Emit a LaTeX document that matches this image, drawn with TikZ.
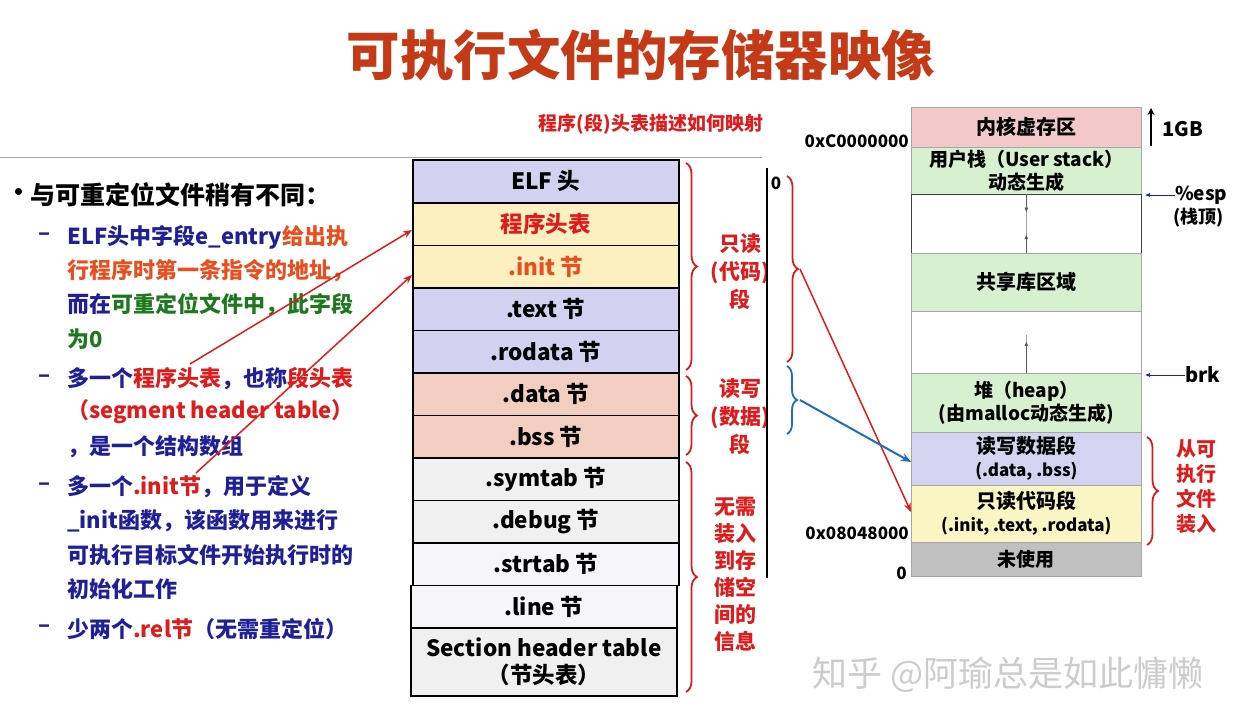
\documentclass[tikz,border=0pt]{standalone}
\usepackage{fontspec}
\setmainfont{Noto Sans CJK SC}
\usetikzlibrary{decorations.pathreplacing,arrows.meta}
\definecolor{titlec}{RGB}{196,58,22}
\definecolor{navyc}{RGB}{32,32,150}
\definecolor{oredc}{RGB}{232,78,30}
\definecolor{redc}{RGB}{222,28,28}
\definecolor{greenc}{RGB}{30,120,30}
\definecolor{lavc}{RGB}{210,210,240}
\definecolor{yelc}{RGB}{253,240,192}
\definecolor{pinkc}{RGB}{242,206,192}
\definecolor{grayc}{RGB}{240,240,240}
\definecolor{grayd}{RGB}{246,246,250}
\definecolor{kerc}{RGB}{242,200,200}
\definecolor{grnc}{RGB}{214,240,208}
\definecolor{memlav}{RGB}{212,212,240}
\definecolor{memyel}{RGB}{250,246,196}
\definecolor{unusc}{RGB}{192,192,192}
\definecolor{bluec}{RGB}{30,110,190}
\definecolor{bracer}{RGB}{210,30,30}
\begin{document}
\begin{tikzpicture}[x=1pt,y=-1pt,
  every node/.style={inner sep=0pt},
  lt/.style={anchor=west, font=\fontsize{22}{26}\selectfont\bfseries, text=navyc},
  sect/.style={draw=black, line width=1.6pt, minimum width=266pt, anchor=north west, font=\fontsize{22.5}{27}\selectfont\bfseries, align=center},
  mem/.style={draw=gray!70, line width=0.7pt, minimum width=230pt, anchor=north west, font=\fontsize{19}{22}\selectfont\bfseries, align=center},
  lab/.style={font=\fontsize{17}{20}\selectfont\bfseries},
  blab/.style={font=\fontsize{21}{28}\selectfont\bfseries, text=redc, align=center},
  rbrace/.style={decorate, decoration={brace, amplitude=11pt}, draw=bracer, line width=1.8pt},
  bbrace/.style={decorate, decoration={brace, amplitude=10pt}, draw=bluec, line width=1.8pt},
  rarrow/.style={draw=redc, line width=1.5pt, -{Stealth[length=9pt,width=7pt]}},
  barrow/.style={draw=bluec, line width=2pt, -{Stealth[length=10pt,width=8pt]}},
  smarrow/.style={draw=gray!70!black, line width=0.6pt, -{Latex[length=5pt,width=4pt]}}
]
\useasboundingbox (0,0) rectangle (1245,721);
\fill[white] (0,0) rectangle (1245,721);

% title
\node[font=\fontsize{53.5}{58}\selectfont\bfseries, text=titlec] (title) at (641,55) {可执行文件的存储器映像};
\node[font=\fontsize{19}{21}\selectfont\bfseries, text=redc] (maphint) at (651,124) {程序(段)头表描述如何映射};
\draw[gray!70, line width=1pt] (0,157) coordinate (hl1) -- (762,157) coordinate (hl2);

% left text
\node[anchor=west, font=\fontsize{25}{28}\selectfont\bfseries] (bul) at (6,195) {•};
\node[anchor=west, font=\fontsize{25}{28}\selectfont\bfseries] (head) at (30,195) {与可重定位文件稍有不同：};
\node[lt] (d1) at (38,237) {–};
\node[lt] (l1) at (67,237) {ELF头中字段e\_entry\textcolor{oredc}{给出执}};
\node[lt, text=oredc] (l2) at (67,271) {行程序时第一条指令的地址，};
\node[lt] (l3) at (67,305) {而在\textcolor{greenc}{可重定位文件中，此字段}};
\node[lt, text=greenc] (l4) at (67,339) {为0};
\node[lt] (d2) at (38,379) {–};
\node[lt] (l5) at (67,379) {多一个\textcolor{redc}{程序头表}，也称\textcolor{redc}{段头表}};
\node[lt, text=redc] (l6) at (67,412) {（segment header table）};
\node[lt] (l7) at (67,447) {，是一个结构数组};
\node[lt] (d3) at (38,487) {–};
\node[lt] (l8) at (67,487) {多一个\textcolor{redc}{.init节}，用于定义};
\node[lt] (l9) at (67,521) {\_init函数，该函数用来进行};
\node[lt] (l10) at (67,555) {可执行目标文件开始执行时的};
\node[lt] (l11) at (67,589) {初始化工作};
\node[lt] (d4) at (38,629) {–};
\node[lt] (l12) at (67,629) {少两个\textcolor{redc}{.rel节}（无需重定位）};

% ELF table
\node[sect, fill=lavc, minimum height=43pt] (elf) at (412,159) {ELF 头};
\node[sect, fill=yelc, minimum height=42.5pt, text=redc] (pht) at (412,202) {程序头表};
\node[sect, fill=yelc, minimum height=42.5pt, text=oredc] (init) at (412,244.5) {.init 节};
\node[sect, fill=lavc, minimum height=42.5pt] (text) at (412,287) {.text 节};
\node[sect, fill=lavc, minimum height=42.5pt] (rodata) at (412,329.5) {.rodata 节};
\node[sect, fill=pinkc, minimum height=42.5pt] (data) at (412,372) {.data 节};
\node[sect, fill=pinkc, minimum height=42.5pt] (bss) at (412,414.5) {.bss 节};
\node[sect, fill=grayc, minimum height=42.5pt] (symtab) at (412,457) {.symtab 节};
\node[sect, fill=grayc, minimum height=42.5pt] (debug) at (412,499.5) {.debug 节};
\node[sect, fill=grayd, minimum height=42.5pt] (strtab) at (412,542) {.strtab 节};
\node[sect, fill=grayd, minimum height=42.5pt] (line) at (410,584.5) {.line 节};
\node[sect, fill=grayc, minimum height=68pt, font=\fontsize{22.5}{27}\selectfont\bfseries] (sht) at (410,627) {Section header table\\（节头表）};

% braces beside table
\draw[rbrace] (686,163) -- (686,370);
\draw[rbrace] (686,376) -- (686,455);
\draw[rbrace] (686,462) -- (686,692);
\node[blab] (ro) at (740,272) {只读\\(代码)\\段};
\node[blab] (rw) at (740,417) {读写\\(数据)\\段};
\node[blab, font=\fontsize{21}{27}\selectfont\bfseries] (noload) at (735,574) {无需\\装入\\到存\\储空\\间的\\信息};
\draw[black, line width=1.2pt] (767,168) coordinate (vl1) -- (767,578) coordinate (vl2);
\node[lab] (z1) at (776,183) {0};
\draw[rbrace] (787,176) -- (787,362);
\coordinate (b4tip) at (800,269);
\draw[bbrace] (787,366) -- (787,434);
\coordinate (b5tip) at (800,400);

% memory map
\node[mem, fill=kerc, minimum height=39.5pt, font=\fontsize{20}{22}\selectfont\bfseries] (kern) at (911,107) {内核虚存区};
\node[mem, fill=grnc, minimum height=47pt, font=\fontsize{19}{23}\selectfont\bfseries] (ustack) at (911,146.5) {用户栈（User stack）\\动态生成};
\node[mem, draw=gray!50!black, fill=white, minimum height=59pt] (gap1) at (911,193.5) {};
\node[mem, fill=grnc, minimum height=58pt, font=\fontsize{20}{22}\selectfont\bfseries] (shlib) at (911,252.5) {共享库区域};
\node[mem, fill=white, minimum height=62pt] (gap2) at (911,310.5) {};
\node[mem, fill=grnc, minimum height=59pt, font=\fontsize{19}{23}\selectfont\bfseries] (heap) at (911,372.5) {堆（heap）\\(由malloc动态生成)};
\node[mem, fill=memlav, minimum height=53pt] (rwseg) at (911,431.5) {\fontsize{20}{22}\selectfont 读写数据段\\[1pt]\fontsize{17}{19}\selectfont (.data, .bss)};
\node[mem, fill=memyel, minimum height=57pt] (roseg) at (911,484.5) {\fontsize{20}{22}\selectfont 只读代码段\\[1pt]\fontsize{17}{19}\selectfont (.init, .text, .rodata)};
\node[mem, fill=unusc, minimum height=34pt] (unused) at (911,541.5) {未使用};

% inner arrows
\draw[gray!70, line width=0.5pt] (gap1.north) -- (gap1.south);
\draw[smarrow] (gap1.north) -- ++(0,19) coordinate (ga);
\draw[smarrow] (gap1.south) -- ++(0,-19) coordinate (gb);
\draw[gray!70, line width=0.5pt] (gap2.south) -- ++(0,-38) coordinate (gc);
\draw[smarrow] (gap2.south) -- ++(0,-32) coordinate (gd);

% memory labels
\node[lab, anchor=east] (addrk) at (909,141) {0xC0000000};
\node[lab, anchor=east] (addrc) at (909,533) {0x08048000};
\node[lab, anchor=east] (addr0) at (907,573) {0};
\coordinate (gbB) at (1151,146);
\coordinate (gbT) at (1151,108);
\draw[black, line width=2pt, -{Stealth[length=7pt,width=7pt]}] (gbB) -- (gbT);
\node[font=\fontsize{20}{22}\selectfont\bfseries, anchor=west] (gb1) at (1162,129) {1GB};
\node[font=\fontsize{19}{22}\selectfont\bfseries, anchor=west] (esp) at (1175,195) {\%esp};
\node[font=\fontsize{18}{22}\selectfont\bfseries, anchor=west] (esptop) at (1173,218) {(栈顶)};
\draw[smarrow, draw=navyc] (esp.west) -- (1145,195);
\node[font=\fontsize{20}{22}\selectfont\bfseries, anchor=west] (brk) at (1185,375) {brk};
\draw[smarrow, draw=navyc] (brk.west) -- (1145,375);
\draw[rbrace] (1147,437) -- (1147,545);
\node[blab, font=\fontsize{20}{25}\selectfont\bfseries] (load) at (1196,487) {从可\\执行\\文件\\装入};

% connectors
\coordinate (a1) at (190,364);
\coordinate (a2) at (196,473);
\draw[rarrow] (a1) -- (pht.west |- 0,230);
\draw[rarrow] (a2) -- (pht.west |- 0,275);
\draw[rarrow] (b4tip) -- (roseg.west |- 0,512);
\draw[barrow] (b5tip) -- (rwseg.west |- 0,462);

% watermark
\node[font=\fontsize{35}{38}\selectfont, text=gray!40] (wm) at (1008,675) {知乎 @阿瑜总是如此慵懒};
\end{tikzpicture}
\end{document}
